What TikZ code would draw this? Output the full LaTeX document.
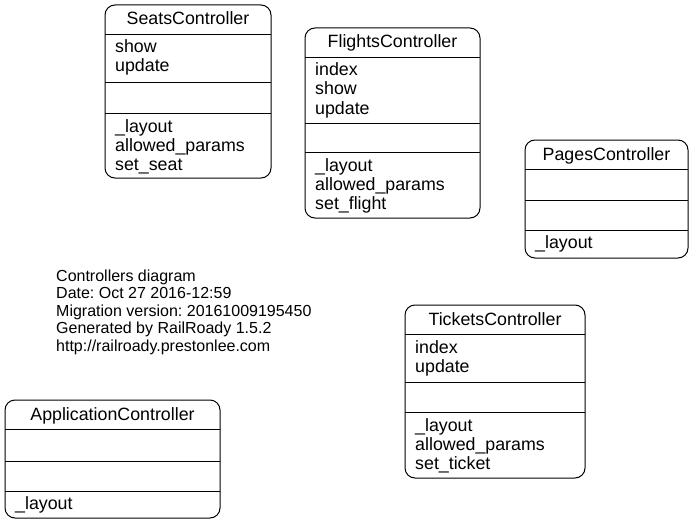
\documentclass[tikz,border=0pt]{standalone}
\usepackage{fontspec}
\setmainfont{Liberation Sans}
\begin{document}
\begin{tikzpicture}[x=1pt, y=-1pt,
  ctrl/.style={draw, line width=1pt, rounded corners=10pt},
  title/.style={anchor=base, inner sep=0pt, font=\fontsize{17.8}{19}\selectfont},
  member/.style={anchor=base west, inner sep=0pt, font=\fontsize{17.8}{19}\selectfont},
  legend/.style={anchor=base west, inner sep=0pt, font=\fontsize{16}{17.5}\selectfont\frenchspacing}]
\useasboundingbox (0, 0) rectangle (695, 524);
\draw [ctrl] (105, 5) rectangle (271, 178);
\draw (105, 34) -- (271, 34);
\draw (105, 82) -- (271, 82);
\draw (105, 113) -- (271, 113);
\node [title] (seats) at (188, 25) {SeatsController};
\foreach \m [count=\i] in {show, update}{\node [member] (seats-pub-\i) at (115, 34 + 19*\i) {\m};}
\foreach \m [count=\i] in {\_layout, allowed\_params, set\_seat}{\node [member] (seats-priv-\i) at (115, 113 + 19*\i) {\m};}
\draw [ctrl] (305, 28) rectangle (480, 218);
\draw (305, 57) -- (480, 57);
\draw (305, 123) -- (480, 123);
\draw (305, 152) -- (480, 152);
\node [title] (flights) at (392.5, 48) {FlightsController};
\foreach \m [count=\i] in {index, show, update}{\node [member] (flights-pub-\i) at (315, 57 + 19*\i) {\m};}
\foreach \m [count=\i] in {\_layout, allowed\_params, set\_flight}{\node [member] (flights-priv-\i) at (315, 152 + 19*\i) {\m};}
\draw [ctrl] (525, 140) rectangle (688, 258);
\draw (525, 169) -- (688, 169);
\draw (525, 200) -- (688, 200);
\draw (525, 230) -- (688, 230);
\node [title] (pages) at (606.5, 160) {PagesController};
\node [member] (pages-priv-1) at (535, 248) {\_layout};
\draw [ctrl] (405, 305) rectangle (585, 478);
\draw (405, 334) -- (585, 334);
\draw (405, 382) -- (585, 382);
\draw (405, 412) -- (585, 412);
\node [title] (tickets) at (495, 325) {TicketsController};
\foreach \m [count=\i] in {index, update}{\node [member] (tickets-pub-\i) at (415, 334 + 19*\i) {\m};}
\foreach \m [count=\i] in {\_layout, allowed\_params, set\_ticket}{\node [member] (tickets-priv-\i) at (415, 412 + 19*\i) {\m};}
\draw [ctrl] (5, 400) rectangle (220, 518);
\draw (5, 429) -- (220, 429);
\draw (5, 461) -- (220, 461);
\draw (5, 491) -- (220, 491);
\node [title] (application) at (112.5, 420) {ApplicationController};
\node [member] (application-priv-1) at (15, 509) {\_layout};
\foreach \t [count=\i] in {Controllers diagram, Date: Oct 27 2016-12:59, Migration version: 20161009195450, Generated by RailRoady 1.5.2, http://railroady.prestonlee.com}{\node [legend] (legend-\i) at (56, 263.5 + 17.5*\i) {\t};}
\end{tikzpicture}
\end{document}
